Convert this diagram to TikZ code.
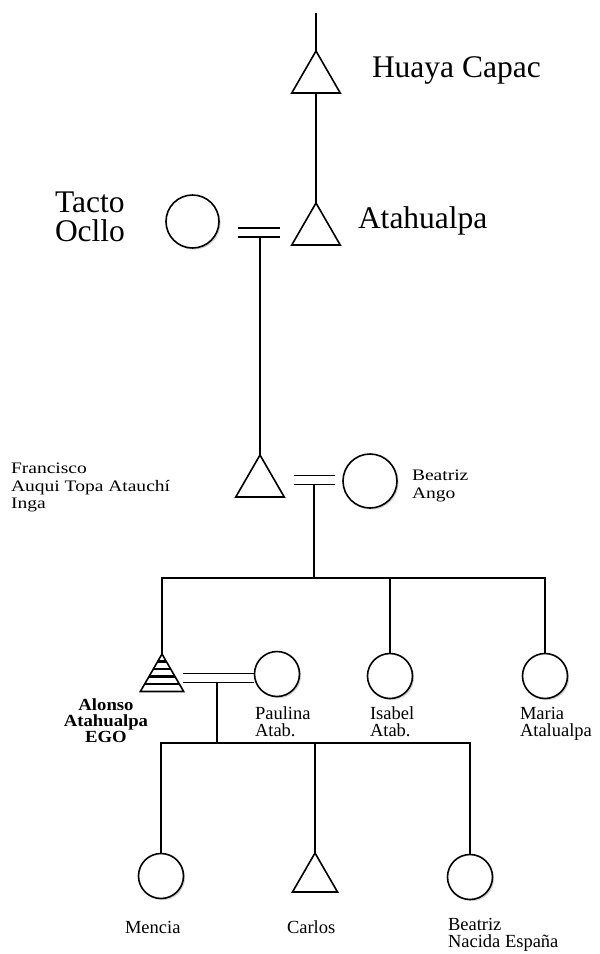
\documentclass[tikz,border=0pt]{standalone}
\usepackage{fontspec}
\setmainfont{Liberation Serif}
\newfontfamily\stretchfont{Liberation Serif}[FakeStretch=1.22]
\newfontfamily\boldstretch{Liberation Serif}[FakeStretch=1.1]
\usetikzlibrary{shapes.geometric,shadows,calc}
\begin{document}
\begin{tikzpicture}[x=1pt,y=-1pt,line width=1.6pt,
  tri/.style={draw, regular polygon, regular polygon sides=3, minimum size=#1, inner sep=0pt, outer sep=0pt, anchor=north},
  tri/.default=56,
  circ/.style={draw, circle, fill=white, minimum size=#1, inner sep=0pt, outer sep=0pt,
    drop shadow={shadow xshift=1.6pt, shadow yshift=-1.6pt, fill=gray, opacity=0.35}},
  circ/.default=45,
  big/.style={font=\fontsize{31.5}{29}\selectfont, inner sep=0pt, outer sep=0pt, align=left},
  small/.style={font=\stretchfont\fontsize{16}{17.5}\selectfont, inner sep=0pt, outer sep=0pt, align=left},
  mid/.style={font=\fontsize{18.5}{17}\selectfont, inner sep=0pt, outer sep=0pt, align=left},
  egolab/.style={font=\boldstretch\bfseries\fontsize{17}{16}\selectfont, inner sep=0pt, outer sep=0pt, align=center},
  marr/.pic={\draw (-#1,-4.5) -- (#1,-4.5) (-#1,4.5) -- (#1,4.5);}
]
\useasboundingbox (0,0) rectangle (600,954);
\fill[white] (0,0) rectangle (600,954);

% persons
\node[tri] (huaya) at (316,51) {};
\node[tri] (ata) at (316,203) {};
\node[circ=53] (tacto) at (192.5,221.5) {};
\node[tri] (franc) at (260,455) {};
\node[circ=54] (beatriz) at (370,481) {};
\node[tri=50] (ego) at (162,654) {};
\node[circ] (paulina) at (277,674) {};
\node[circ] (isabel) at (390,676) {};
\node[circ] (maria) at (545,676) {};
\node[circ] (mencia) at (161,876) {};
\node[tri=52] (carlos) at (315,853) {};
\node[circ] (beatrizE) at (470,877) {};

% EGO stripes
\begin{scope}
  \clip (ego.corner 1) -- (ego.corner 2) -- (ego.corner 3) -- cycle;
  \foreach \k in {1,2,3,4}
    \draw[line width=2.8pt] ($(ego.north)!\k/5!(ego.south) + (-30,0)$) -- ++(60,0);
\end{scope}

% marriages
\pic at (259,232.5) {marr=21};
\pic at (314.5,480) {marr=20.5};
\pic at (218.5,678) {marr=35.5};

% lines
\coordinate (topend) at (316,13);
\draw (topend) -- (huaya.north);
\draw (huaya.south) -- (ata.north);
\coordinate (m1) at (260,237);
\draw (m1) -- (franc.north);
\coordinate (m2) at (314,484);
\coordinate (sibC) at (314,578);
\draw (m2) -- (sibC);
\draw (ego.north) |- (sibC) -| (maria.north);
\draw (isabel.north) -- (isabel.north |- sibC);
\coordinate (m3) at (217,683);
\coordinate (chC) at (217,743);
\draw (m3) -- (chC);
\draw (mencia.north) |- (chC) -| (beatrizE.north);
\draw (carlos.north) -- (carlos.north |- chC);

% labels
\node[big, anchor=base west] (lhuaya) at (372,77) {Huaya Capac};
\node[big, anchor=base west] (lata) at (358,228) {Atahualpa};
\node[big, anchor=north west] (ltacto) at (55,192) {Tacto\\Ocllo};
\node[small, anchor=north west] (lfranc) at (11,463) {Francisco\\Auqui Topa Atauchí\\Inga};
\node[small, anchor=north west] (lbeatriz) at (412,470) {Beatriz\\Ango};
\node[egolab, anchor=north] (lego) at (106,699) {Alonso\\Atahualpa\\EGO};
\node[mid, anchor=north west] (lpaulina) at (255,707) {Paulina\\Atab.};
\node[mid, anchor=north west] (lisabel) at (370,707) {Isabel\\Atab.};
\node[mid, anchor=north west] (lmaria) at (520,707) {Maria\\Atalualpa};
\node[mid, anchor=base west] (lmencia) at (125,933) {Mencia};
\node[mid, anchor=base west] (lcarlos) at (287,933) {Carlos};
\node[mid, anchor=north west] (lbeatrizE) at (448,918) {Beatriz\\Nacida España};
\end{tikzpicture}
\end{document}
